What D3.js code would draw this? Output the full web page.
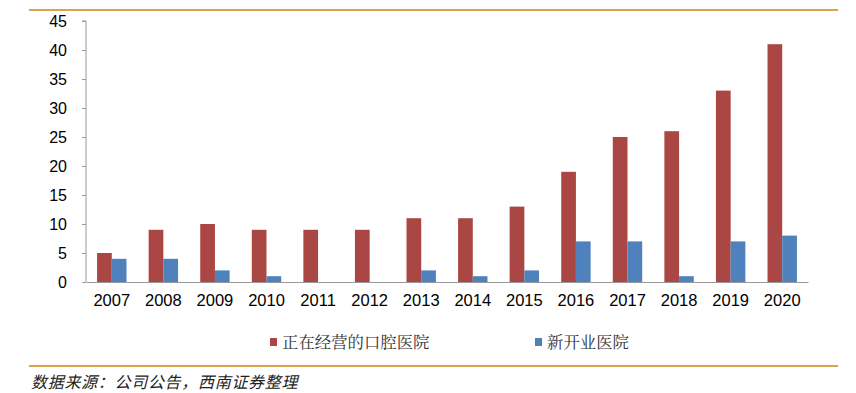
<!DOCTYPE html>
<html>
<head>
<meta charset="utf-8">
<script src="https://cdn.jsdelivr.net/npm/d3@7"></script>
<style>
    body { margin: 0; background: #fff; }
    svg text { font-family: Arial, "Liberation Sans", sans-serif; }
</style>
</head>
<body>
<div id="chart"></div>
<script>
const years = ['2007', '2008', '2009', '2010', '2011', '2012', '2013', '2014', '2015', '2016', '2017', '2018', '2019', '2020'];
const operating = [5, 9, 10, 9, 9, 9, 11, 11, 13, 19, 25, 26, 33, 41];
const newlyOpened = [4, 4, 2, 1, 0, 0, 2, 1, 2, 7, 7, 1, 7, 8];
const seriesNames = ['正在经营的口腔医院', '新开业医院'];
const yTicks = [0, 5, 10, 15, 20, 25, 30, 35, 40, 45];

window.onload = () => {
    const w = 856;
    const h = 393;
    const colors = ['#AA4643', '#4F81BD'];

    const svg = d3.select('#chart')
        .append('svg')
        .attr('width', w)
        .attr('height', h);

    // orange rules top and bottom
    svg.selectAll('line.rule')
        .data([10, 366])
        .enter()
        .append('line')
        .attr('class', 'rule')
        .attr('x1', 29).attr('x2', 838)
        .attr('y1', d => d).attr('y2', d => d)
        .attr('stroke', '#D9A34F')
        .attr('stroke-width', 2);

    const x = d3.scaleBand()
        .domain(years)
        .range([86, 808]);

    const y = d3.scaleLinear()
        .domain([0, 45])
        .range([282, 21]);

    const barW = 14.7;

    const groups = svg.selectAll('g.year')
        .data(years)
        .enter()
        .append('g')
        .attr('class', 'year')
        .attr('transform', d => `translate(${x(d) + x.bandwidth() / 2},0)`);

    groups.append('rect')
        .attr('x', -barW)
        .attr('y', (d, i) => y(operating[i]))
        .attr('width', barW)
        .attr('height', (d, i) => y(0) - y(operating[i]))
        .attr('fill', colors[0]);

    groups.append('rect')
        .attr('x', 0)
        .attr('y', (d, i) => y(newlyOpened[i]))
        .attr('width', barW)
        .attr('height', (d, i) => y(0) - y(newlyOpened[i]))
        .attr('fill', colors[1]);

    // y axis
    const yAxis = svg.append('g')
        .attr('transform', 'translate(86,0)')
        .call(d3.axisLeft(y).tickValues(yTicks).tickSize(4).tickPadding(15));
    yAxis.select('.domain').attr('stroke', '#999').attr('d', `M-4,${y(45)}H0V${y(0)}`);
    yAxis.selectAll('.tick line').attr('stroke', '#999');
    yAxis.selectAll('text')
        .attr('font-size', 16)
        .attr('fill', '#000')
        .style('font-family', 'Arial, "Liberation Sans", sans-serif');

    // x axis
    const xAxis = svg.append('g')
        .attr('transform', `translate(0,${y(0)})`)
        .call(d3.axisBottom(x).tickSize(0).tickPadding(12));
    xAxis.select('.domain').attr('stroke', '#999');
    xAxis.selectAll('text')
        .attr('font-size', 16.5)
        .attr('fill', '#000')
        .style('font-family', 'Arial, "Liberation Sans", sans-serif');

    // legend
    const legendX = [270, 535];
    const legend = svg.selectAll('g.legend')
        .data(seriesNames)
        .enter()
        .append('g')
        .attr('class', 'legend')
        .attr('transform', (d, i) => `translate(${legendX[i]},342)`);

    legend.append('rect')
        .attr('x', 0).attr('y', -4)
        .attr('width', 7).attr('height', 8)
        .attr('fill', (d, i) => colors[i]);

    legend.append('text')
        .attr('x', 12)
        .attr('dy', '0.35em')
        .attr('font-size', 16.4)
        .attr('fill', '#333')
        .style('font-family', '"Noto Serif CJK SC", "Noto Sans CJK SC", sans-serif')
        .text(d => d);

    // source note
    svg.append('text')
        .attr('x', 31)
        .attr('y', 388)
        .attr('font-size', 16)
        .attr('font-style', 'italic')
        .attr('letter-spacing', 0.7)
        .attr('fill', '#222')
        .style('font-family', '"Noto Sans CJK SC", sans-serif')
        .text('数据来源：公司公告，西南证券整理');
};
</script>
</body>
</html>
